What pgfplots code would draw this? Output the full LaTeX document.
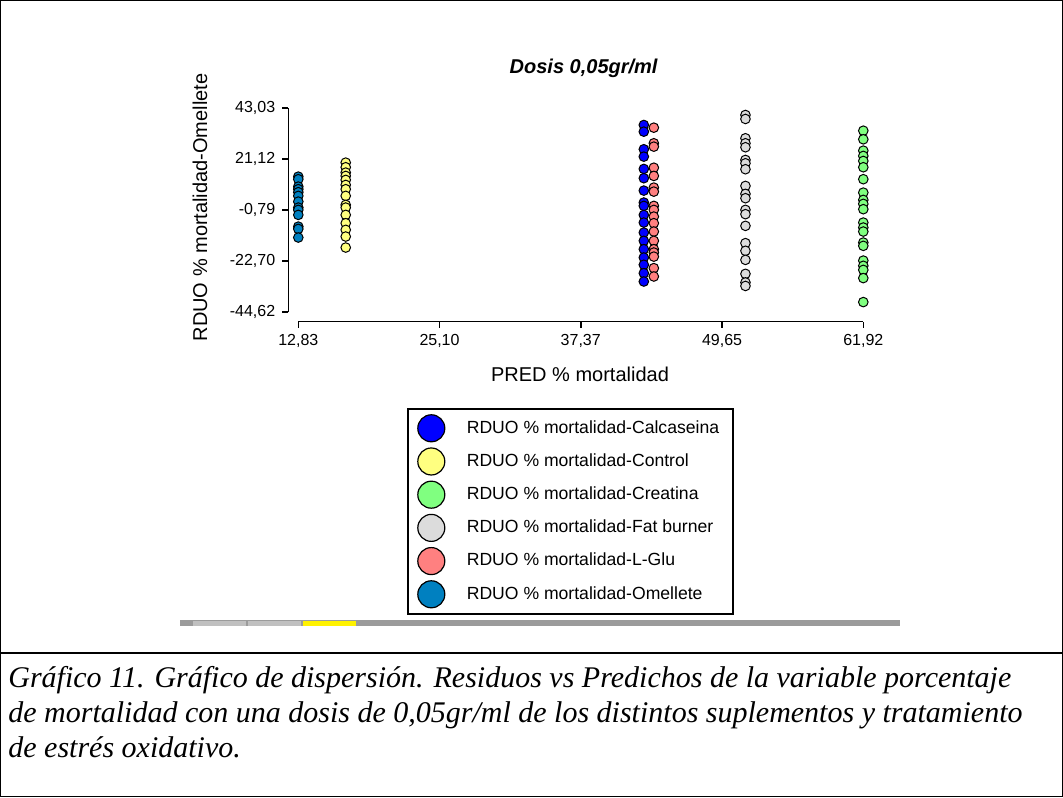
\documentclass[border=0pt]{standalone}
\usepackage{fontspec}
\setmainfont{Liberation Sans}
\newfontfamily\capfont{Liberation Serif}
\usepackage{pgfplots}
\pgfplotsset{compat=1.18}
\usepackage{pgfplotstable}

\definecolor{cCalc}{RGB}{0,0,255}
\definecolor{cCtrl}{RGB}{255,255,128}
\definecolor{cCrea}{RGB}{128,255,128}
\definecolor{cFat}{RGB}{220,220,220}
\definecolor{cLGlu}{RGB}{255,128,128}
\definecolor{cOme}{RGB}{0,128,192}
\definecolor{barGray}{RGB}{155,155,155}
\definecolor{tabGray}{RGB}{192,192,192}

% Residuals (y) against predicted mortality (x), one table per supplement
\pgfplotstableread{
x y
42.85 35.86
42.85 32.99
42.85 25.43
42.85 22.26
42.85 16.98
42.85 12.99
42.85 7.67
42.85 2.53
42.85 1.10
42.85 -2.80
42.85 -6.07
42.85 -10.36
42.85 -13.92
42.85 -17.50
42.85 -21.10
42.85 -24.20
42.85 -27.80
42.85 -31.40
}\calcaseina
\pgfplotstableread{
x y
16.95 19.68
16.95 17.70
16.95 15.40
16.95 13.97
16.95 12.26
16.95 10.10
16.95 8.27
16.95 5.40
16.95 1.53
16.95 0.37
16.95 -2.77
16.95 -6.33
16.95 -9.20
16.95 -12.08
16.95 -16.80
}\control
\pgfplotstableread{
x y
61.92 33.40
61.92 29.70
61.92 24.83
61.92 22.56
61.92 20.40
61.92 17.70
61.92 12.56
61.92 6.80
61.92 3.67
61.92 1.96
61.92 -0.32
61.92 -6.07
61.92 -8.20
61.92 -9.93
61.92 -14.65
61.92 -16.07
61.92 -22.40
61.92 -24.65
61.92 -26.40
61.92 -29.93
61.92 -40.23
}\creatina
\pgfplotstableread{
x y
51.68 40.15
51.68 38.44
51.68 30.15
51.68 28.00
51.68 26.29
51.68 20.84
51.68 19.40
51.68 16.85
51.68 9.68
51.68 6.25
51.68 4.40
51.68 -0.62
51.68 -2.46
51.68 -7.48
51.68 -14.90
51.68 -18.20
51.68 -22.10
51.68 -28.10
51.68 -31.80
51.68 -33.30
}\fatburner
\pgfplotstableread{
x y
43.72 34.70
43.72 28.00
43.72 26.55
43.72 17.50
43.72 13.97
43.72 8.95
43.72 7.23
43.72 1.10
43.72 -0.62
43.72 -3.50
43.72 -6.33
43.72 -9.93
43.72 -13.92
43.72 -17.50
43.72 -18.94
43.72 -20.70
43.72 -25.64
43.72 -29.24
}\lglu
\pgfplotstableread{
x y
12.83 13.67
12.83 12.56
12.83 9.38
12.83 8.27
12.83 6.98
12.83 5.40
12.83 2.94
12.83 0.37
12.83 -0.62
12.83 -2.77
12.83 -7.80
12.83 -8.80
12.83 -12.50
}\omellete

\begin{document}
\begin{tikzpicture}
\useasboundingbox (0,0) rectangle (531.5pt,398.5pt);
% page frame and divider above the caption
\draw[line width=0.5pt] (0.25pt,0.25pt) rectangle (531.25pt,398.25pt);
\draw[line width=1pt] (0,72pt) -- (531.5pt,72pt);
% strip under the chart
\fill[barGray] (90pt,85.5pt) rectangle (450pt,88.5pt);
\fill[tabGray] (96.5pt,85.5pt) rectangle (123pt,88pt);
\fill[tabGray] (124pt,85.5pt) rectangle (150.5pt,88pt);
\fill[yellow] (151.5pt,85.5pt) rectangle (178pt,88pt);

\begin{axis}[
  at={(149.15pt,242.35pt)}, anchor=south west,
  scale only axis, width=282.5pt, height=102pt,
  xmin=12.83, xmax=61.92, ymin=-44.62, ymax=43.03,
  clip=false,
  axis x line*=bottom, axis y line*=left,
  axis x line shift=4.7pt, axis y line shift=5pt,
  axis line style={-, line width=0.8pt, black},
  tick align=outside, major tick length=3pt,
  tick style={line width=0.8pt, black},
  xtick={12.83,25.10,37.37,49.65,61.92},
  xticklabels={{12,83},{25,10},{37,37},{49,65},{61,92}},
  ytick={-44.62,-22.70,-0.79,21.12,43.03},
  yticklabels={{-44,62},{-22,70},{-0,79},{21,12},{43,03}},
  tick label style={font=\fontsize{8}{9}\selectfont},
  title={Dosis 0,05gr/ml},
  title style={at={(axis description cs:0.505,1.138)}, anchor=center,
    font=\bfseries\itshape\fontsize{10}{12}\selectfont},
  xlabel={PRED \% mortalidad},
  xlabel style={at={(axis description cs:0.4986,-0.302)}, anchor=center,
    font=\fontsize{10}{12}\selectfont},
  ylabel={RDUO \% mortalidad-Omellete},
  ylabel style={at={(axis description cs:-0.174,0.514)}, anchor=center,
    font=\fontsize{10}{12}\selectfont},
  legend cell align=left,
  legend image code/.code={\draw[#1, mark size=6.75pt, line width=0.6pt] plot coordinates {(0pt,0pt)};},
  legend style={at={(axis description cs:0.1924,-0.469)}, anchor=north west,
    draw=black, line width=0.8pt, font=\fontsize{8.8}{10}\selectfont,
    row sep=3.1pt, inner xsep=5pt, inner ysep=3pt,
    /tikz/every odd column/.append style={column sep=9pt}},
  every axis plot/.append style={only marks, mark=*, mark size=2.4pt, line width=0.5pt},
]
\addplot[mark options={draw=black, fill=cCalc}] table {\calcaseina};
\addlegendentry{RDUO \% mortalidad-Calcaseina}
\addplot[mark options={draw=black, fill=cCtrl}] table {\control};
\addlegendentry{RDUO \% mortalidad-Control}
\addplot[mark options={draw=black, fill=cCrea}] table {\creatina};
\addlegendentry{RDUO \% mortalidad-Creatina}
\addplot[mark options={draw=black, fill=cFat}] table {\fatburner};
\addlegendentry{RDUO \% mortalidad-Fat burner}
\addplot[mark options={draw=black, fill=cLGlu}] table {\lglu};
\addlegendentry{RDUO \% mortalidad-L-Glu}
\addplot[mark options={draw=black, fill=cOme}] table {\omellete};
\addlegendentry{RDUO \% mortalidad-Omellete}
\end{axis}

% caption
\begin{scope}[every node/.style={anchor=base west, inner sep=0pt,
    font=\capfont\itshape\fontsize{15}{18}\selectfont}]
\node at (4pt,55pt) {Gráfico 11. Gráfico de dispersión. Residuos vs Predichos de la variable porcentaje};
\node at (4pt,37.5pt) {de mortalidad con una dosis de 0,05gr/ml de los distintos suplementos y tratamiento};
\node at (4pt,20pt) {de estrés oxidativo.};
\end{scope}
\end{tikzpicture}
\end{document}
